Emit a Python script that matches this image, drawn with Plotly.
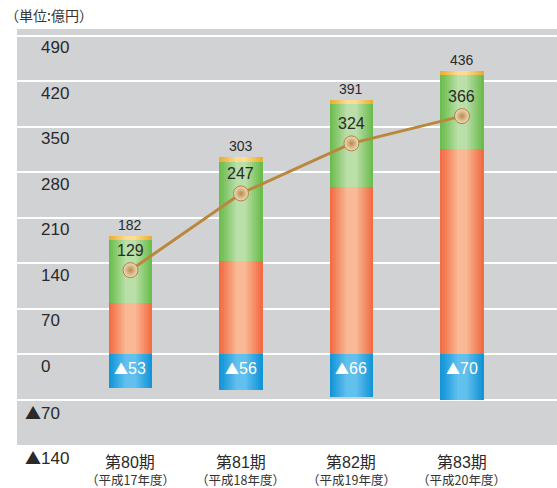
import plotly.graph_objects as go

# ---- data ----
categories = ["第80期", "第81期", "第82期", "第83期"]
subtitles = ["（平成17年度）", "（平成18年度）", "（平成19年度）", "（平成20年度）"]
orange_vals = [78, 143, 257, 315]
green_vals = [97, 153, 127, 114]
yellow_vals = [7, 7, 7, 7]
total_vals = [182, 303, 391, 436]
blue_vals = [-53, -56, -66, -70]
line_vals = [129, 247, 324, 366]
blue_labels = ["▲53", "▲56", "▲66", "▲70"]
ytick_vals = [490, 420, 350, 280, 210, 140, 70, 0, -70, -140]
ytick_text = ["490", "420", "350", "280", "210", "140", "70", "0", "▲70", "▲140"]

FONT = "Liberation Sans, Noto Sans CJK JP, sans-serif"
CJK = "Noto Sans CJK JP"
xs = list(range(len(categories)))
BAR_W = 0.39


def tri(text, size=None):
    st = "font-family:'%s'" % CJK
    if size:
        st += ";font-size:%spx" % size
    return text.replace("▲", "<span style=\"%s\">▲</span>" % st)


def hex2rgb(h):
    h = h.lstrip("#")
    return tuple(int(h[i:i + 2], 16) for i in (0, 2, 4))


def mix(c1, c2, t):
    a, b = hex2rgb(c1), hex2rgb(c2)
    return "rgb(%d,%d,%d)" % tuple(round(a[i] + (b[i] - a[i]) * t) for i in range(3))


fig = go.Figure()


def grad_bar(vals, bases, edge, center, steps=9):
    for k in range(steps):
        t = k / (steps - 1)
        w = BAR_W * (1 - 0.85 * k / steps)
        fig.add_trace(go.Bar(
            x=xs, y=vals, base=bases, width=w,
            marker=dict(color=mix(edge, center, t), line=dict(width=0)),
            hoverinfo="skip", showlegend=False,
        ))


zeros = [0] * 4
grad_bar(blue_vals, zeros, "#1395D7", "#62C0EE")
grad_bar(orange_vals, zeros, "#F26D44", "#F9B994")
green_base = orange_vals
grad_bar(green_vals, green_base, "#6CBD4F", "#BADFA8")
yellow_base = [o + g for o, g in zip(orange_vals, green_vals)]
grad_bar(yellow_vals, yellow_base, "#ECAE30", "#FBDC90")

fig.add_trace(go.Scatter(
    x=xs, y=line_vals, mode="lines+markers",
    line=dict(color="#B9883C", width=3),
    marker=dict(size=15, color="#F1DEC2",
                gradient=dict(type="radial", color="#B98A48"),
                line=dict(color="#B08040", width=1)),
    showlegend=False, hoverinfo="skip",
))

ann = []
for i in xs:
    ann.append(dict(x=i, y=total_vals[i], xref="x", yref="y", text=str(total_vals[i]),
                    showarrow=False, yanchor="middle", yshift=11,
                    font=dict(family=FONT, size=14, color="#2a2a2a")))
    ann.append(dict(x=i, y=line_vals[i], xref="x", yref="y", text=str(line_vals[i]),
                    showarrow=False, yanchor="middle", yshift=20,
                    font=dict(family=FONT, size=16, color="#2a2a2a")))
    ann.append(dict(x=i, y=0, xref="x", yref="y", text=tri(blue_labels[i], 14),
                    showarrow=False, yanchor="middle", yshift=-14,
                    font=dict(family=FONT, size=16, color="white")))
    ann.append(dict(x=i, y=0, xref="x", yref="paper", text=categories[i],
                    showarrow=False, yanchor="middle", yshift=-17,
                    font=dict(family=FONT, size=16, color="#2a2a2a")))
    ann.append(dict(x=i, y=0, xref="x", yref="paper", text=subtitles[i],
                    showarrow=False, yanchor="middle", yshift=-34,
                    font=dict(family=CJK, size=12.5, color="#333")))

for v, t in zip(ytick_vals, ytick_text):
    ann.append(dict(x=(39 - 17) / 540, y=v, xref="paper", yref="y", text=tri(t, 16),
                    showarrow=False, xanchor="left", yanchor="middle",
                    yshift=-12, xshift=-16 if t.startswith("▲") else 0,
                    font=dict(family=FONT, size=17, color="#2a2a2a")))

ann.append(dict(x=(3 - 17) / 540, y=1 + (29 - 15) / 416, xref="paper", yref="paper",
                text="（単位:億円）", showarrow=False, xanchor="left", yanchor="middle",
                font=dict(family=CJK, size=14, color="#333")))

fig.update_layout(
    width=557, height=488,
    margin=dict(l=17, r=0, t=29, b=43),
    paper_bgcolor="white", plot_bgcolor="#D1D2D4",
    barmode="overlay", bargap=0,
    showlegend=False,
    annotations=ann,
    xaxis=dict(range=[-1.027, 3.86], showgrid=False, zeroline=False,
               showticklabels=False, fixedrange=True),
    yaxis=dict(range=[-140, 500], tick0=0, dtick=70, showgrid=True,
               gridcolor="white", gridwidth=2, zeroline=True, zerolinecolor="white",
               zerolinewidth=2, showticklabels=False, fixedrange=True),
)

fig.write_html("out.html")
